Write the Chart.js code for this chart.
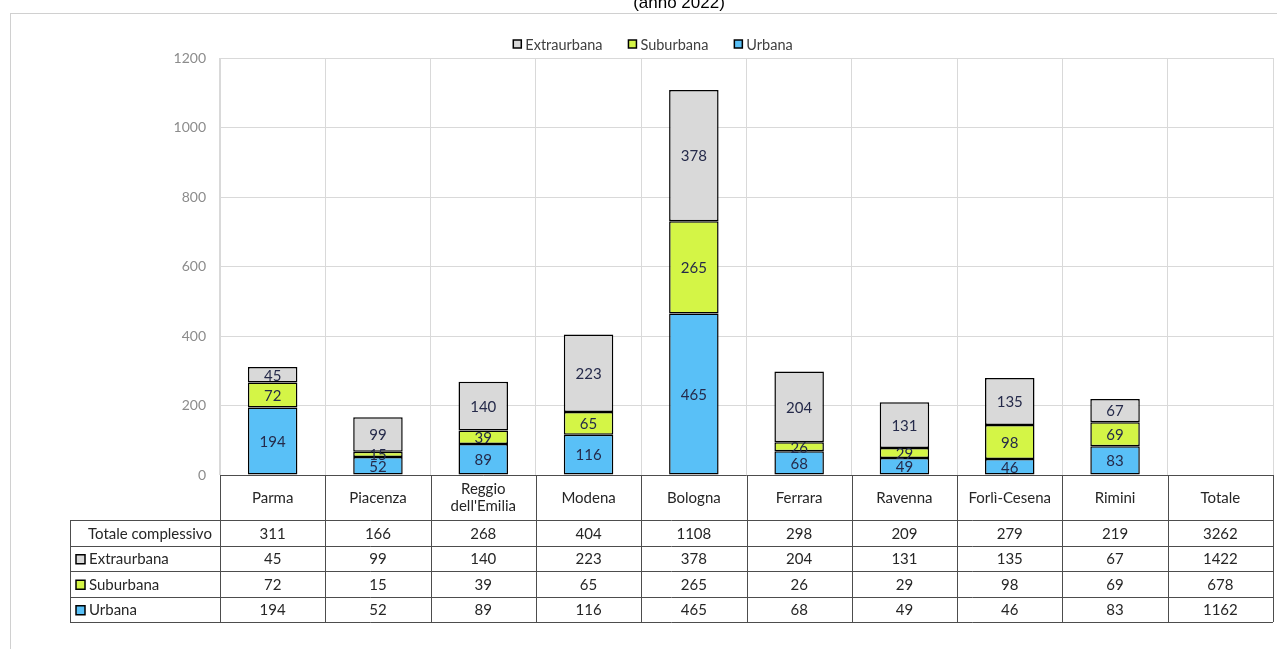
<!DOCTYPE html>
<html>
<head>
<meta charset="utf-8">
<script src="https://cdn.jsdelivr.net/npm/chart.js@4.4.0/dist/chart.umd.min.js"></script>
<style>
    body { margin: 0; background: #fff; }
    #wrap { width: 1277px; height: 649px; }
</style>
</head>
<body>
<div id="wrap"><canvas id="incidentiChart" width="1277" height="649"></canvas></div>
<script>
// Incidenti per provincia e tipo di strada (anno 2022)
const province = ['Parma', 'Piacenza', ['Reggio', "dell'Emilia"], 'Modena', 'Bologna', 'Ferrara', 'Ravenna', 'Forlì-Cesena', 'Rimini', 'Totale'];
const urbana = [194, 52, 89, 116, 465, 68, 49, 46, 83];
const suburbana = [72, 15, 39, 65, 265, 26, 29, 98, 69];
const extraurbana = [45, 99, 140, 223, 378, 204, 131, 135, 67];
const yTicks = [0, 200, 400, 600, 800, 1000, 1200];

const colori = {
    urbana: '#59c0f7',
    suburbana: '#d4f546',
    extraurbana: '#d9d9d9'
};

const FONT = "Lato, 'Open Sans', sans-serif";

function somma(arr) {
    return arr.reduce((a, b) => a + b, 0);
}

// totali per provincia + colonna "Totale"
const totaleComplessivo = urbana.map((v, i) => v + suburbana[i] + extraurbana[i]);

const righeTabella = [
    { label: 'Totale complessivo', values: totaleComplessivo, color: null },
    { label: 'Extraurbana', values: extraurbana, color: colori.extraurbana },
    { label: 'Suburbana', values: suburbana, color: colori.suburbana },
    { label: 'Urbana', values: urbana, color: colori.urbana }
];

// sfondo, cornice e titolo
const cornicePlugin = {
    id: 'cornice',
    beforeDraw(chart) {
        const ctx = chart.ctx;
        ctx.save();
        ctx.fillStyle = '#fff';
        ctx.fillRect(0, 0, chart.width, chart.height);
        ctx.strokeStyle = '#d0d0d0';
        ctx.lineWidth = 1;
        ctx.strokeRect(10.5, 13.5, 1400, 800);
        ctx.fillStyle = '#000';
        ctx.font = "17px 'Liberation Sans', Arial, sans-serif";
        ctx.textAlign = 'center';
        ctx.textBaseline = 'alphabetic';
        ctx.fillText('(anno 2022)', 679, 8);
        ctx.restore();
    }
};

// legenda in alto (ordine inverso rispetto alla pila)
const legendaPlugin = {
    id: 'legenda',
    afterDraw(chart) {
        const ctx = chart.ctx;
        const voci = chart.data.datasets.slice().reverse();
        ctx.save();
        ctx.font = '14.5px ' + FONT;
        ctx.textBaseline = 'middle';
        ctx.textAlign = 'left';
        const box = 8, gapTesto = 4, gapVoci = 26;
        const larghezze = voci.map(d => box + gapTesto + ctx.measureText(d.label).width);
        const totale = somma(larghezze) + gapVoci * (voci.length - 1);
        let x = 653 - totale / 2;
        const y = 44;
        voci.forEach((d, i) => {
            ctx.fillStyle = d.backgroundColor;
            ctx.fillRect(x, y - box / 2, box, box);
            ctx.strokeStyle = '#000';
            ctx.lineWidth = 1.5;
            ctx.strokeRect(x, y - box / 2, box, box);
            ctx.fillStyle = '#404040';
            ctx.fillText(d.label, x + box + gapTesto, y + 1);
            x += larghezze[i] + gapVoci;
        });
        ctx.restore();
    }
};

// etichette dei valori dentro i segmenti
const etichettePlugin = {
    id: 'etichette',
    afterDatasetsDraw(chart) {
        const ctx = chart.ctx;
        ctx.save();
        ctx.font = '15px ' + FONT;
        ctx.fillStyle = '#252a4a';
        ctx.textAlign = 'center';
        ctx.textBaseline = 'middle';
        chart.data.datasets.forEach((ds, di) => {
            const meta = chart.getDatasetMeta(di);
            meta.data.forEach((bar, i) => {
                const v = ds.data[i];
                if (v == null) return;
                ctx.fillText(String(v), bar.x, (bar.y + bar.base) / 2 + 1);
            });
        });
        ctx.restore();
    }
};

// tabella dati sotto il grafico
const tabellaPlugin = {
    id: 'tabella',
    afterDraw(chart) {
        const ctx = chart.ctx;
        const area = chart.chartArea;
        const xs = chart.scales.x;
        const n = province.length;
        const w = (area.right - area.left) / n;
        const top = area.bottom;
        const headerH = 45;
        const rowH = 25.5;
        const left = 70;
        const bottom = top + headerH + rowH * righeTabella.length;

        ctx.save();
        ctx.strokeStyle = '#4d4d4d';
        ctx.lineWidth = 1;
        ctx.beginPath();
        // linee orizzontali
        ctx.moveTo(area.left, top + 0.5);
        ctx.lineTo(area.right, top + 0.5);
        for (let r = 0; r <= righeTabella.length; r++) {
            const y = Math.round(top + headerH + rowH * r) + 0.5;
            ctx.moveTo(left, y);
            ctx.lineTo(area.right, y);
        }
        // linee verticali
        for (let c = 0; c <= n; c++) {
            const x = Math.round(area.left + w * c) + 0.5;
            ctx.moveTo(x, top);
            ctx.lineTo(x, bottom);
        }
        ctx.moveTo(left + 0.5, top + headerH);
        ctx.lineTo(left + 0.5, bottom);
        ctx.stroke();

        ctx.font = '15px ' + FONT;
        ctx.fillStyle = '#262626';
        ctx.textBaseline = 'middle';
        ctx.textAlign = 'center';

        // intestazioni
        province.forEach((p, i) => {
            const cx = xs.getPixelForValue(i);
            const cy = top + headerH / 2;
            if (Array.isArray(p)) {
                ctx.fillText(p[0], cx, cy - 8);
                ctx.fillText(p[1], cx, cy + 9);
            } else {
                ctx.fillText(p, cx, cy + 1);
            }
        });

        // righe
        righeTabella.forEach((riga, r) => {
            const cy = top + headerH + rowH * r + rowH / 2 + 1;
            ctx.textAlign = 'left';
            if (riga.color) {
                ctx.fillStyle = riga.color;
                ctx.fillRect(76, cy - 4.5, 9, 9);
                ctx.strokeStyle = '#000';
                ctx.lineWidth = 1.5;
                ctx.strokeRect(76, cy - 4.5, 9, 9);
                ctx.fillStyle = '#262626';
                ctx.fillText(riga.label, 89, cy);
            } else {
                ctx.fillStyle = '#262626';
                ctx.fillText(riga.label, 88, cy);
            }
            ctx.textAlign = 'center';
            riga.values.forEach((v, i) => {
                ctx.fillText(String(v), xs.getPixelForValue(i), cy);
            });
            ctx.fillText(String(somma(riga.values)), xs.getPixelForValue(n - 1), cy);
        });
        ctx.restore();
    }
};

new Chart(document.getElementById('incidentiChart').getContext('2d'), {
    type: 'bar',
    data: {
        labels: province,
        datasets: [
            { label: 'Urbana', data: urbana, backgroundColor: colori.urbana },
            { label: 'Suburbana', data: suburbana, backgroundColor: colori.suburbana },
            { label: 'Extraurbana', data: extraurbana, backgroundColor: colori.extraurbana }
        ].map(d => Object.assign(d, {
            borderColor: '#000',
            borderWidth: 1.5,
            borderSkipped: false,
            categoryPercentage: 1,
            barPercentage: 0.47
        }))
    },
    options: {
        responsive: false,
        animation: false,
        layout: { padding: { left: 150, right: 4, top: 58, bottom: 174 } },
        plugins: {
            legend: { display: false },
            tooltip: { enabled: false }
        },
        scales: {
            x: {
                stacked: true,
                ticks: { display: false },
                grid: { color: '#d9d9d9', drawTicks: false, offset: true },
                border: { display: false },
                afterFit: s => { s.height = 0; }
            },
            y: {
                stacked: true,
                min: 0,
                max: 1200,
                afterBuildTicks: s => { s.ticks = yTicks.map(v => ({ value: v })); },
                ticks: {
                    color: '#8c8c8c',
                    padding: 14,
                    font: { family: FONT, size: 14 },
                    callback: v => String(v)
                },
                grid: { color: '#d9d9d9', drawTicks: false },
                border: { color: '#d9d9d9' },
                afterFit: s => { s.width = 70; }
            }
        }
    },
    plugins: [cornicePlugin, etichettePlugin, tabellaPlugin, legendaPlugin]
});
</script>
</body>
</html>
